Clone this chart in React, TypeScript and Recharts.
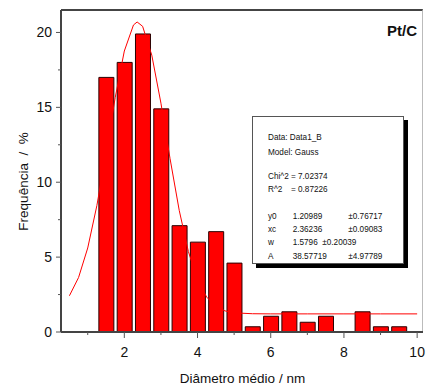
import React from "react";
import { ComposedChart, Bar, Line, XAxis, YAxis } from "recharts";

// histogram bins (centre of each 0.5 nm bin) and their frequency in %
const binCenters = [1.5, 2.0, 2.5, 3.0, 3.5, 4.0, 4.5, 5.0, 5.5, 6.0, 6.5, 7.0, 7.5, 8.5, 9.0, 9.5];
const frequency = [17.0, 18.0, 19.9, 14.9, 7.1, 6.0, 6.7, 4.6, 0.35, 1.05, 1.35, 0.65, 1.05, 1.35, 0.35, 0.35];

// gauss fit curve
const fitX = [0.5, 0.75, 1.0, 1.25, 1.5, 1.75, 2.0, 2.25, 2.35, 2.5, 2.75, 3.0, 3.25, 3.5, 3.75, 4.0, 4.25, 4.5, 4.75, 5.0, 5.5, 6.0, 7.0, 8.0, 9.0, 10.0];
const fitY = [2.42, 3.64, 5.61, 8.44, 11.95, 15.64, 18.76, 20.5, 20.7, 20.41, 18.49, 15.28, 11.57, 8.12, 5.37, 3.48, 2.33, 1.71, 1.41, 1.28, 1.22, 1.21, 1.21, 1.21, 1.21, 1.21];

const xTicks = [1, 2, 3, 4, 5, 6, 7, 8, 9, 10];
const yTicks = [0, 2.5, 5, 7.5, 10, 12.5, 15, 17.5, 20];

const fitStats = [
  ["Chi^2", "7.02374"],
  ["R^2", "0.87226"],
];
const fitParams = [
  ["y0", "1.20989", "±0.76717"],
  ["xc", "2.36236", "±0.09083"],
  ["w", "1.5796  ±0.20039", ""],
  ["A", "38.57719", "±4.97789"],
];

const barData = binCenters.map((x, i) => ({ x, freq: frequency[i] }));
const fitData = fitX.map((x, i) => ({ x, fit: fitY[i] }));

const W = 426;
const H = 392;
const xDomain = [0.27, 10.16];
const yDomain = [0, 21.5];

function XTick({ x, y, payload }: any) {
  const v = payload.value;
  const major = v % 2 === 0;
  return (
    <g>
      <line x1={x} y1={y} x2={x} y2={y + (major ? 6 : 3)} stroke="#555" />
      {major && (
        <text x={x} y={y + 25} textAnchor="middle" fontSize={14} fill="#111">
          {v}
        </text>
      )}
    </g>
  );
}

function YTick({ x, y, payload }: any) {
  const v = payload.value;
  const major = v % 5 === 0;
  return (
    <g>
      <line x1={x} y1={y} x2={x - (major ? 5 : 3)} y2={y} stroke="#555" />
      {major && (
        <text x={x - 9} y={y + 5} textAnchor="end" fontSize={14} fill="#111">
          {v}
        </text>
      )}
    </g>
  );
}

const boxText: React.CSSProperties = {
  position: "absolute",
  fontSize: 8.2,
  lineHeight: "10px",
  whiteSpace: "pre",
  color: "#111",
};

function FitBox() {
  const statTop = [171.7, 185];
  const rowTop = [211.7, 225, 238, 251.7];
  return (
    <>
      <div
        style={{
          position: "absolute",
          left: 252,
          top: 116,
          width: 152,
          height: 148,
          boxSizing: "border-box",
          border: "1px solid #555",
          background: "#fff",
          boxShadow: "4px 4px 0 #000",
        }}
      />
      <span style={{ ...boxText, left: 268, top: 133 }}>Data: Data1_B</span>
      <span style={{ ...boxText, left: 268, top: 147.7 }}>Model: Gauss</span>
      {fitStats.map((row, i) => (
        <React.Fragment key={row[0]}>
          <span style={{ ...boxText, left: 268, top: statTop[i] }}>{row[0]}</span>
          <span style={{ ...boxText, left: 291, top: statTop[i] }}>=</span>
          <span style={{ ...boxText, left: 298, top: statTop[i] }}>{row[1]}</span>
        </React.Fragment>
      ))}
      {fitParams.map((row, i) => (
        <React.Fragment key={row[0]}>
          <span style={{ ...boxText, left: 268, top: rowTop[i] }}>{row[0]}</span>
          <span style={{ ...boxText, left: 292.7, top: rowTop[i] }}>{row[1]}</span>
          <span style={{ ...boxText, left: 348.3, top: rowTop[i] }}>{row[2]}</span>
        </React.Fragment>
      ))}
    </>
  );
}

export default function App() {
  return (
    <div
      style={{
        position: "absolute",
        left: 0,
        top: 0,
        width: W,
        height: H,
        background: "#fff",
        fontFamily: "'Liberation Sans', Arial, sans-serif",
      }}
    >
      {/* plot frame: top and right edges */}
      <div
        style={{
          position: "absolute",
          left: 61,
          top: 9,
          width: 362,
          height: 323,
          boxSizing: "border-box",
          borderTop: "2px solid #444",
          borderRight: "1px solid #bbb",
        }}
      />
      <ComposedChart
        width={W}
        height={H}
        data={barData}
        margin={{ top: 10, right: 3, left: 60, bottom: 59 }}
        style={{ position: "absolute", left: 0, top: 0 }}
      >
        <XAxis
          dataKey="x"
          type="number"
          domain={xDomain}
          ticks={xTicks}
          interval={0}
          allowDataOverflow
          height={1}
          tickSize={0}
          tickMargin={0}
          tickLine={false}
          tick={<XTick />}
          axisLine={{ stroke: "#444", strokeWidth: 2 }}
        />
        <XAxis xAxisId="fit" dataKey="x" type="number" domain={xDomain} allowDataOverflow hide />
        <YAxis
          type="number"
          domain={yDomain}
          ticks={yTicks}
          interval={0}
          allowDataOverflow
          width={1}
          tickSize={0}
          tickMargin={0}
          tickLine={false}
          tick={<YTick />}
          axisLine={{ stroke: "#444", strokeWidth: 2 }}
        />
        <Bar
          dataKey="freq"
          barSize={15}
          fill="#ff0000"
          stroke="#2a0000"
          strokeWidth={1}
          isAnimationActive={false}
        />
        <Line
          xAxisId="fit"
          data={fitData}
          dataKey="fit"
          type="linear"
          stroke="#ff0000"
          strokeWidth={1}
          dot={false}
          isAnimationActive={false}
        />
      </ComposedChart>
      <svg
        width={W}
        height={H}
        style={{ position: "absolute", left: 0, top: 0, pointerEvents: "none" }}
      >
        <text x={417} y={36} textAnchor="end" fontSize={15} fontWeight="bold" fill="#111">
          Pt/C
        </text>
        <text
          x={242.5}
          y={382.5}
          textAnchor="middle"
          fontSize={13.5}
          fill="#111"
        >
          Diâmetro médio / nm
        </text>
        <text
          transform="translate(28 181.5) rotate(-90)"
          textAnchor="middle"
          fontSize={13.5}
          fill="#111"
          xmlSpace="preserve"
        >
          Frequência  /  %
        </text>
      </svg>
      <FitBox />
    </div>
  );
}
